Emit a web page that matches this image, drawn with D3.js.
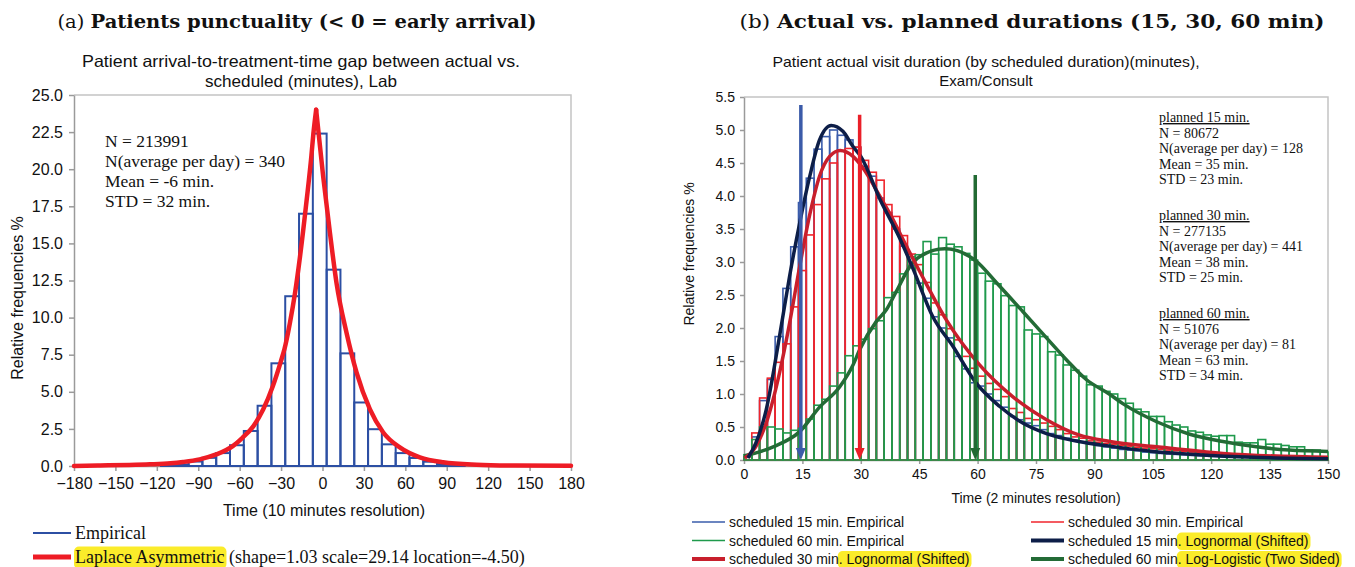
<!DOCTYPE html>
<html>
<head>
<meta charset="utf-8">
<script src="https://cdn.jsdelivr.net/npm/d3@7"></script>
<style>
  body { margin: 0; background: #fff; }
  svg text { font-family: "Liberation Sans", Arial, sans-serif; fill: #111; }
  svg .serif { font-family: "Liberation Serif", "Times New Roman", serif; }
  svg .cap { font-family: "DejaVu Serif", "Liberation Serif", serif; }
  .axis path, .axis line { stroke: #9a9a9a; }
  .axis text { font-size: 16px; fill: #111; }
  .axis-r text { font-size: 14px; }
</style>
</head>
<body>
<svg id="fig" width="1355" height="567"></svg>
<script>
// ---------- (a) arrival gap, 10 minute bins ----------
const gapBinStart = [-117, -107, -97, -87, -77, -67, -57, -47, -37, -27, -17, -7,
  3, 13, 23, 33, 43, 53, 63, 73, 83, 93];
const gapPct = [0.03, 0.1, 0.3, 0.55, 0.87, 1.4, 2.36, 4.06, 6.92, 11.44, 17.0, 22.4,
  13.23, 7.59, 4.28, 2.48, 1.46, 0.87, 0.54, 0.29, 0.13, 0.05];
// Laplace asymmetric fit
const laplaceX = [-180, -161, -140, -125, -110, -101, -89, -77, -65, -58, -50, -43, -36, -30,
  -27.5, -23.6, -20, -16.3, -11.5, -8, -6.7, -4.6,
  0.5, 5.4, 10.2, 17.4, 24.7, 34.3, 44, 56, 70.5, 87.4, 111.6, 140, 180];
const laplaceY = [0.0, 0.04, 0.07, 0.11, 0.18, 0.27, 0.45, 0.78, 1.34, 1.9, 2.69, 3.8, 5.37, 7.1,
  7.9, 9.65, 11.6, 14.1, 17.9, 20.95, 22.3, 24.0,
  19.5, 15.7, 12.3, 8.98, 6.29, 3.83, 2.26, 1.25, 0.58, 0.25, 0.09, 0.03, 0.01];
const gapTicksX = d3.range(-180, 181, 30);
const gapTicksY = d3.range(0, 25.01, 2.5);
const gapStats = ["N = 213991", "N(average per day) = 340", "Mean = -6 min.", "STD = 32 min."];

// ---------- (b) visit durations, 2 minute bins from 0 to 150 ----------
const durBins = d3.range(0, 150, 2);
const sched15 = [0.05, 0.35, 0.90, 1.22, 1.87, 2.60, 3.23, 3.90, 4.27, 4.71,
  4.90, 5.00, 4.92, 4.85, 4.74, 4.45, 4.30, 3.97, 3.75, 3.50,
  3.24, 2.95, 2.68, 2.45, 2.17, 2.00, 1.85, 1.57, 1.38, 1.17,
  1.12, 1.00, 0.90, 0.80, 0.66, 0.61, 0.56, 0.52, 0.46, 0.40,
  0.37, 0.33, 0.30, 0.27, 0.24, 0.22, 0.20, 0.18, 0.16, 0.15,
  0.14, 0.12, 0.11, 0.10, 0.09, 0.085, 0.08, 0.07, 0.065, 0.06,
  0.055, 0.05, 0.045, 0.04, 0.04, 0.035, 0.03, 0.03, 0.03, 0.025,
  0.02, 0.02, 0.02, 0.02, 0.02];
const sched30 = [0.05, 0.41, 0.94, 1.24, 1.48, 1.76, 2.32, 2.87, 3.41, 3.87,
  4.26, 4.50, 4.68, 4.72, 4.74, 4.54, 4.36, 4.24, 3.87, 3.69,
  3.40, 3.12, 2.96, 2.69, 2.38, 2.20, 1.99, 1.82, 1.57, 1.39,
  1.27, 1.16, 1.07, 0.96, 0.78, 0.72, 0.63, 0.61, 0.56, 0.51,
  0.46, 0.40, 0.35, 0.33, 0.29, 0.27, 0.25, 0.24, 0.22, 0.21,
  0.19, 0.18, 0.17, 0.16, 0.15, 0.14, 0.13, 0.12, 0.11, 0.10,
  0.10, 0.09, 0.085, 0.08, 0.075, 0.07, 0.065, 0.06, 0.06, 0.055,
  0.05, 0.05, 0.045, 0.045, 0.04];
const sched60 = [0.08, 0.31, 0.50, 0.50, 0.47, 0.41, 0.45, 0.48, 0.62, 0.83,
  0.92, 1.12, 1.32, 1.58, 1.73, 1.83, 1.99, 2.11, 2.46, 2.54,
  2.82, 3.08, 3.11, 3.31, 3.12, 3.37, 3.27, 3.23, 3.13, 3.03,
  2.83, 2.71, 2.67, 2.49, 2.34, 2.32, 1.97, 1.91, 1.87, 1.64,
  1.59, 1.44, 1.36, 1.27, 1.14, 1.12, 1.04, 1.00, 0.93, 0.86,
  0.77, 0.73, 0.66, 0.66, 0.58, 0.53, 0.50, 0.44, 0.42, 0.38,
  0.36, 0.37, 0.37, 0.27, 0.26, 0.26, 0.31, 0.24, 0.24, 0.22,
  0.20, 0.20, 0.15, 0.15, 0.12];
// fitted curves
const logn15X = [1, 3, 5.7, 9.2, 11.7, 14.3, 16.9, 19.4, 22.4, 25.4, 28, 30, 35, 40, 43.4,
  48.5, 53.7, 59.7, 65.7, 71.6, 77.7, 86, 94, 105, 120, 135, 150];
const logn15Y = [0.03, 0.25, 0.76, 1.9, 2.78, 3.59, 4.3, 4.85, 5.07, 4.98, 4.75, 4.6, 3.94, 3.36, 2.9,
  2.17, 1.72, 1.16, 0.81, 0.56, 0.40, 0.28, 0.21, 0.13, 0.07, 0.035, 0.02];
const logn30X = [0.2, 3, 5.7, 9.2, 11.7, 14.3, 16.9, 19.4, 22, 24.7, 28, 30.6, 34.85, 37.4,
  41.7, 45.1, 52, 60.5, 69, 77.7, 86, 94, 106, 123, 150];
const logn30Y = [0.03, 0.2, 0.56, 1.34, 2.07, 2.93, 3.72, 4.3, 4.6, 4.69, 4.6, 4.42, 4.0, 3.74,
  3.24, 2.86, 2.12, 1.44, 0.96, 0.61, 0.38, 0.28, 0.2, 0.1, 0.04];
const loglog60X = [0, 7.5, 14.3, 19.4, 24.6, 28, 29.7, 34, 36.6, 39.1, 42.6, 45.1, 51.6, 59.7,
  64.8, 71.6, 77.7, 82.8, 87.9, 93.8, 97.4, 106, 114.5, 123, 131.6, 140, 150];
const loglog60Y = [0.06, 0.2, 0.43, 0.8, 1.11, 1.44, 1.67, 2.1, 2.28, 2.55, 2.93, 3.08, 3.2, 3.01,
  2.69, 2.25, 1.85, 1.52, 1.22, 1.0, 0.85, 0.58, 0.39, 0.28, 0.2, 0.15, 0.13];
const plannedArrowX = [14.6, 29.7, 59.4];
const plannedArrowTop = [5.38, 5.23, 4.32];
const durTicksX = d3.range(0, 151, 15);
const durTicksY = d3.range(0, 5.51, 0.5);
const durStats = [
  ["planned 15 min.", "N = 80672", "N(average per day) = 128", "Mean = 35 min.", "STD = 23 min."],
  ["planned 30 min.", "N = 277135", "N(average per day) = 441", "Mean = 38 min.", "STD = 25 min."],
  ["planned 60 min.", "N = 51076", "N(average per day) = 81", "Mean = 63 min.", "STD = 34 min."]
];

const svg = d3.select("#fig");
const YELLOW = "#fbec2a";

// puts text pieces one after another, marked ones on a yellow marker
function markedText(g, x, y, parts, cls, size) {
  let cx = x;
  parts.forEach(([str, marked]) => {
    const t = g.append("text").attr("class", cls).attr("x", cx).attr("y", y)
      .style("font-size", size + "px").text(str);
    const w = t.node().getComputedTextLength();
    if (marked) {
      g.insert("rect", "text").attr("x", cx - 1).attr("y", y - size * 0.92)
        .attr("width", w + 3).attr("height", size * 1.25).attr("rx", 5)
        .attr("fill", YELLOW);
    }
    cx += w;
  });
}

// ================= panel (a) =================
{
  const L = { x0: 74, x1: 571, y0: 95, y1: 466 };
  const x = d3.scaleLinear().domain([-180, 180]).range([L.x0, L.x1]);
  const y = d3.scaleLinear().domain([0, 25]).range([L.y1, L.y0]);
  const g = svg.append("g");

  const cap = g.append("text").attr("class", "cap").attr("x", 297).attr("y", 28)
    .attr("text-anchor", "middle").style("font-size", "19px")
    .attr("textLength", 479).attr("lengthAdjust", "spacingAndGlyphs");
  cap.append("tspan").text("(a) ");
  cap.append("tspan").attr("font-weight", "bold").text("Patients punctuality (< 0 = early arrival)");

  g.append("text").attr("x", 301).attr("y", 67).attr("text-anchor", "middle")
    .style("font-size", "16.5px").attr("textLength", 438).attr("lengthAdjust", "spacingAndGlyphs")
    .text("Patient arrival-to-treatment-time gap between actual vs.");
  g.append("text").attr("x", 301).attr("y", 87).attr("text-anchor", "middle")
    .style("font-size", "16.5px").attr("textLength", 192).attr("lengthAdjust", "spacingAndGlyphs")
    .text("scheduled (minutes), Lab");

  // frame
  g.append("path").attr("d", `M${L.x0},${L.y0}H${L.x1}V${L.y1}`)
    .attr("fill", "none").attr("stroke", "#c4c4c4").attr("stroke-width", 1.5);

  g.append("g").attr("class", "axis").attr("transform", `translate(0,${L.y1})`)
    .call(d3.axisBottom(x).tickValues(gapTicksX).tickSize(5).tickSizeOuter(0).tickPadding(7));
  g.append("g").attr("class", "axis").attr("transform", `translate(${L.x0},0)`)
    .call(d3.axisLeft(y).tickValues(gapTicksY).tickFormat(d3.format(".1f")).tickSize(5).tickSizeOuter(0).tickPadding(6));
  g.selectAll(".axis path, .axis line").attr("stroke-width", 1.5);

  g.append("g").selectAll("rect").data(gapBinStart).join("rect")
    .attr("x", d => x(d)).attr("width", d => x(d + 10) - x(d))
    .attr("y", (d, i) => y(gapPct[i])).attr("height", (d, i) => y(0) - y(gapPct[i]))
    .attr("fill", "none").attr("stroke", "#2c4fa3").attr("stroke-width", 2);

  // split at the peak so the cusp stays sharp
  const peak = laplaceY.indexOf(d3.max(laplaceY));
  const pts = laplaceX.map((v, i) => [v, laplaceY[i]]);
  const line = d3.line().x(d => x(d[0])).y(d => y(d[1])).curve(d3.curveMonotoneX);
  [pts.slice(0, peak + 1), pts.slice(peak)].forEach(seg => {
    g.append("path").attr("d", line(seg)).attr("fill", "none")
      .attr("stroke", "#ee1c25").attr("stroke-width", 4.5).attr("stroke-linecap", "round");
  });

  g.append("g").selectAll("text").data(gapStats).join("text").attr("class", "serif")
    .attr("x", 105).attr("y", (d, i) => 147 + i * 20).style("font-size", "17.5px").text(d => d);

  g.append("text").attr("transform", `translate(23,298) rotate(-90)`)
    .attr("text-anchor", "middle").style("font-size", "16px").text("Relative frequencies %");
  g.append("text").attr("x", 324).attr("y", 516).attr("text-anchor", "middle")
    .style("font-size", "16px").text("Time (10 minutes resolution)");

  // legend
  g.append("line").attr("x1", 33).attr("x2", 71).attr("y1", 533).attr("y2", 533)
    .attr("stroke", "#2c4fa3").attr("stroke-width", 2);
  g.append("text").attr("class", "serif").attr("x", 75).attr("y", 539)
    .style("font-size", "18px").text("Empirical");
  g.append("line").attr("x1", 33).attr("x2", 71).attr("y1", 557).attr("y2", 557)
    .attr("stroke", "#ee1c25").attr("stroke-width", 5);
  markedText(g.append("g"), 75, 563,
    [["Laplace Asymmetric", true], ["\u00a0(shape=1.03 scale=29.14 location=-4.50)", false]], "serif", 18);
}

// ================= panel (b) =================
{
  const R = { x0: 744, x1: 1328, y0: 97, y1: 460 };
  const x = d3.scaleLinear().domain([0, 150]).range([R.x0, R.x1]);
  const y = d3.scaleLinear().domain([0, 5.5]).range([R.y1, R.y0]);
  const g = svg.append("g");

  const cap = g.append("text").attr("class", "cap").attr("x", 1032).attr("y", 28)
    .attr("text-anchor", "middle").style("font-size", "19px")
    .attr("textLength", 585).attr("lengthAdjust", "spacingAndGlyphs");
  cap.append("tspan").text("(b) ");
  cap.append("tspan").attr("font-weight", "bold").text("Actual vs. planned durations (15, 30, 60 min)");

  g.append("text").attr("x", 986).attr("y", 67).attr("text-anchor", "middle")
    .style("font-size", "15px").attr("textLength", 427).attr("lengthAdjust", "spacingAndGlyphs")
    .text("Patient actual visit duration (by scheduled duration)(minutes),");
  g.append("text").attr("x", 986).attr("y", 86).attr("text-anchor", "middle")
    .style("font-size", "15px").text("Exam/Consult");

  g.append("path").attr("d", `M${R.x0},${R.y0}H${R.x1}V${R.y1}`)
    .attr("fill", "none").attr("stroke", "#c4c4c4").attr("stroke-width", 1.5);

  g.append("g").attr("class", "axis axis-r").attr("transform", `translate(0,${R.y1})`)
    .call(d3.axisBottom(x).tickValues(durTicksX).tickSize(4).tickSizeOuter(0).tickPadding(5));
  g.append("g").attr("class", "axis axis-r").attr("transform", `translate(${R.x0},0)`)
    .call(d3.axisLeft(y).tickValues(durTicksY).tickFormat(d3.format(".1f")).tickSize(4).tickSizeOuter(0).tickPadding(5));
  g.selectAll(".axis path, .axis line").attr("stroke-width", 1.5);

  const series = [
    { vals: sched15, color: "#3a5cab" },
    { vals: sched30, color: "#f0252c" },
    { vals: sched60, color: "#1f9a4c" }
  ];
  series.forEach(s => {
    g.append("g").selectAll("rect").data(durBins).join("rect")
      .attr("x", d => x(d)).attr("width", d => x(d + 2) - x(d))
      .attr("y", (d, i) => y(s.vals[i])).attr("height", (d, i) => y(0) - y(s.vals[i]))
      .attr("fill", "none").attr("stroke", s.color).attr("stroke-width", 1.6);
  });

  const line = d3.line().x(d => x(d[0])).y(d => y(d[1])).curve(d3.curveMonotoneX);
  const fits = [
    { xs: loglog60X, ys: loglog60Y, color: "#236b36" },
    { xs: logn30X, ys: logn30Y, color: "#c81f2c" },
    { xs: logn15X, ys: logn15Y, color: "#0d1e48" }
  ];
  fits.forEach(f => {
    g.append("path").attr("d", line(f.xs.map((v, i) => [v, f.ys[i]])))
      .attr("fill", "none").attr("stroke", f.color).attr("stroke-width", 3.5);
  });

  const arrowColors = ["#3b5ba9", "#ea1f28", "#226a33"];
  plannedArrowX.forEach((ax, i) => {
    const px = x(ax), top = y(plannedArrowTop[i]), tip = y(0);
    g.append("line").attr("x1", px).attr("x2", px).attr("y1", top).attr("y2", tip - 10)
      .attr("stroke", arrowColors[i]).attr("stroke-width", 3.5);
    g.append("path").attr("d", `M${px - 5},${tip - 12}L${px + 5},${tip - 12}L${px},${tip}Z`)
      .attr("fill", arrowColors[i]);
  });

  durStats.forEach((block, b) => {
    block.forEach((s, i) => {
      const t = g.append("text").attr("class", "serif").attr("x", 1159)
        .attr("y", 122 + b * 98 + i * 15.5).style("font-size", "14px").text(s);
      if (i === 0) t.style("text-decoration", "underline");
    });
  });

  g.append("text").attr("transform", `translate(694,254) rotate(-90)`)
    .attr("text-anchor", "middle").style("font-size", "14px").text("Relative frequencies %");
  g.append("text").attr("x", (R.x0 + R.x1) / 2).attr("y", 503).attr("text-anchor", "middle")
    .style("font-size", "14px").text("Time (2 minutes resolution)");

  // legend, two columns
  const legendRows = [
    { col: 0, row: 0, color: "#3a5cab", w: 1.6, parts: [["scheduled 15 min. Empirical", false]] },
    { col: 1, row: 0, color: "#f0252c", w: 1.6, parts: [["scheduled 30 min. Empirical", false]] },
    { col: 0, row: 1, color: "#1f9a4c", w: 1.6, parts: [["scheduled 60 min. Empirical", false]] },
    { col: 1, row: 1, color: "#0d1e48", w: 4, parts: [["scheduled 15 min", false], [". Lognormal (Shifted)", true]] },
    { col: 0, row: 2, color: "#c81f2c", w: 4, parts: [["scheduled 30 min", false], [". Lognormal (Shifted)", true]] },
    { col: 1, row: 2, color: "#236b36", w: 4, parts: [["scheduled 60 min", false], [". Log-Logistic (Two Sided)", true]] }
  ];
  legendRows.forEach(r => {
    const lx = r.col === 0 ? 692 : 1031;
    const ly = 522 + r.row * 18.5;
    g.append("line").attr("x1", lx).attr("x2", lx + 33).attr("y1", ly).attr("y2", ly)
      .attr("stroke", r.color).attr("stroke-width", r.w);
    markedText(g.append("g"), lx + 37, ly + 5, r.parts, "", 14);
  });
}
</script>
</body>
</html>
